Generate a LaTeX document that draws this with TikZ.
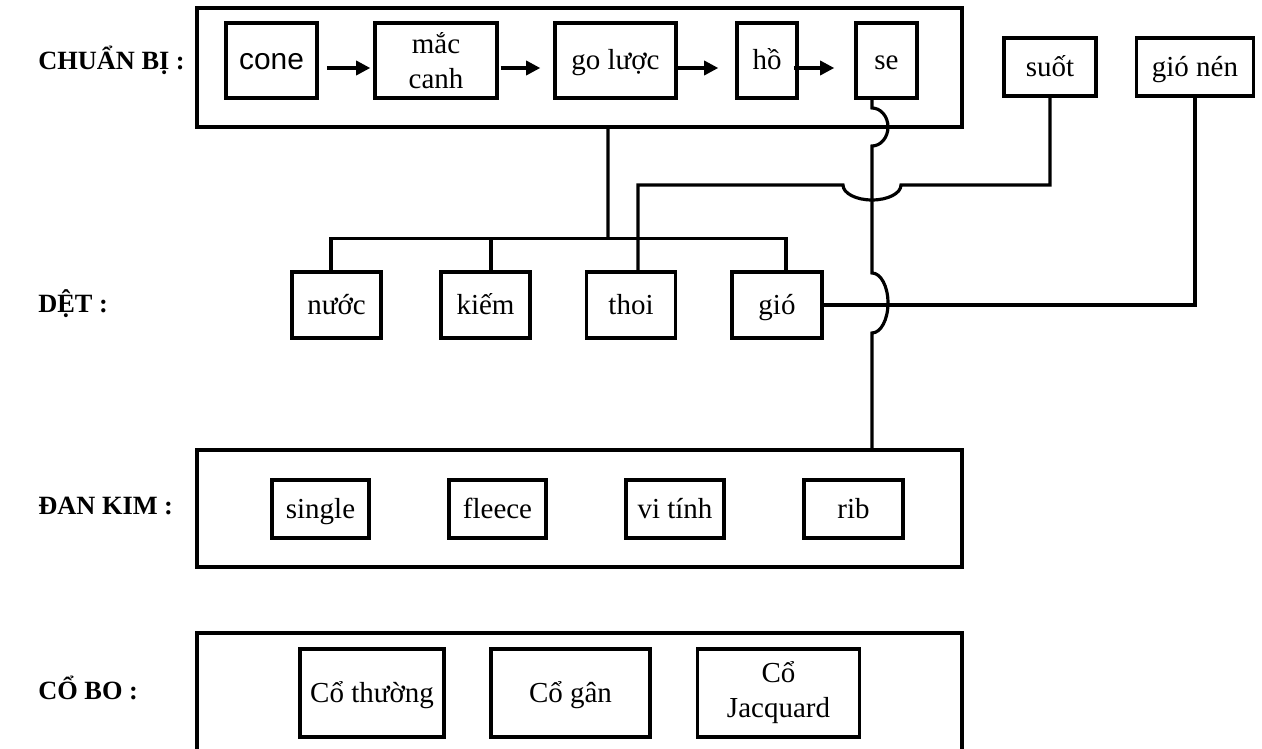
\documentclass[tikz,border=0pt]{standalone}
\usepackage{fontspec}
\setmainfont{Liberation Serif}
\newfontfamily\arialf{Liberation Sans}
\usetikzlibrary{arrows.meta,calc}
\tikzset{
  bx/.style={draw, line width=2pt, inner sep=0pt, align=center, font=\fontsize{16.5}{20}\selectfont},
  one/.style={text height=14pt, text depth=3.2pt},
  cont/.style={draw, line width=2pt, inner sep=0pt},
  lbl/.style={anchor=base west, inner sep=0pt, font=\fontsize{15}{18}\selectfont\bfseries},
  conn/.style={line width=1.8pt},
  arr/.style={line width=1.8pt, -{Triangle[length=8pt,width=8pt]}}
}
\begin{document}
\begin{tikzpicture}[x=0.02cm,y=-0.02cm]
\path[use as bounding box, clip] (0,0) rectangle (1262,749);
\fill[white] (0,0) rectangle (1262,749);
% labels
\node[lbl] (l1) at (38,70) {CHUẨN BỊ :};
\node[lbl] (l2) at (38,313) {DỆT :};
\node[lbl] (l3) at (38,515) {ĐAN KIM :};
\node[lbl] (l4) at (38,700) {CỔ BO :};
% containers
\node[cont, minimum width=15.3cm, minimum height=2.38cm] (cb) at (579.5,67.5) {};
\node[cont, minimum width=15.3cm, minimum height=2.34cm] (dk) at (579.5,508.5) {};
\node[cont, minimum width=15.3cm, minimum height=2.4cm] (co) at (579.5,693) {};
% top row
\node[bx, one, minimum width=1.82cm, minimum height=1.5cm, font=\arialf\fontsize{17}{20}\selectfont] (cone) at (271.5,60.5) {cone};
\node[bx, minimum width=2.44cm, minimum height=1.5cm] (mac) at (436,60.5) {mắc\\canh};
\node[bx, one, minimum width=2.42cm, minimum height=1.5cm] (go) at (615.5,60.5) {go lược};
\node[bx, one, minimum width=1.2cm, minimum height=1.5cm] (ho) at (767,60.5) {hồ};
\node[bx, one, minimum width=1.22cm, minimum height=1.5cm] (se) at (886.5,60.5) {se};
\node[bx, one, minimum width=1.84cm, minimum height=1.16cm] (suot) at (1050,67) {suốt};
\node[bx, one, minimum width=2.34cm, minimum height=1.16cm] (gionen) at (1195,67) {gió nén};
% det row
\node[bx, one, minimum width=1.78cm, minimum height=1.32cm] (nuoc) at (336.5,305) {nước};
\node[bx, one, minimum width=1.78cm, minimum height=1.32cm] (kiem) at (485.5,305) {kiếm};
\node[bx, one, minimum width=1.78cm, minimum height=1.32cm] (thoi) at (631,305) {thoi};
\node[bx, one, minimum width=1.8cm, minimum height=1.32cm] (gio) at (777,305) {gió};
% dan kim row
\node[bx, one, minimum width=1.94cm, minimum height=1.16cm] (single) at (320.5,509) {single};
\node[bx, one, minimum width=1.94cm, minimum height=1.16cm] (fleece) at (497.5,509) {fleece};
\node[bx, one, minimum width=1.96cm, minimum height=1.16cm] (vitinh) at (675,509) {vi tính};
\node[bx, one, minimum width=1.98cm, minimum height=1.16cm] (rib) at (853.5,509) {rib};
% co bo row
\node[bx, one, minimum width=2.88cm, minimum height=1.76cm] (cothuong) at (372,693) {Cổ thường};
\node[bx, one, minimum width=3.18cm, minimum height=1.76cm] (cogan) at (570.5,693) {Cổ gân};
\node[bx, minimum width=3.24cm, minimum height=1.76cm] (cojac) at (778.5,693) {Cổ\\Jacquard};
% arrows
\draw[arr] ($(cone.east)+(8,7.5)$) -- ($(mac.west)+(-3,7.5)$);
\draw[arr] ($(mac.east)+(2,7.5)$) -- ($(go.west)+(-13,7.5)$);
\draw[arr] ($(go.east)+(-3,7.5)$) -- ($(ho.west)+(-17,7.5)$);
\draw[arr] ($(ho.east)+(-5,7.5)$) -- ($(se.west)+(-20,7.5)$);
% connectors
\coordinate (bar) at (608,240);
\draw[conn] ($(cb.south)+(28.5,0)$) -- (bar);
\draw[conn] ($(nuoc.north)+(-5.5,0)$) -- ++(0,-32) -| ($(gio.north)+(9,0)$);
\draw[conn] ($(kiem.north)+(5.5,0)$) -- ++(0,-32);
\coordinate (hopA) at (843,185);
\coordinate (hopB) at (901,185);
\draw[conn] ($(thoi.north)+(7,0)$) |- (hopA)
  .. controls (843,193.3) and (856,200) .. (872,200)
  .. controls (888,200) and (901,193.3) .. (hopB)
  -| (suot.south);
\draw[conn] (gio.east) -| (gionen.south);
\coordinate (sx) at (872,0);
\draw[conn] (se.south -| sx) -- (872,108)
  .. controls (880.8,108) and (888,116.5) .. (888,127)
  .. controls (888,137.5) and (880.8,146) .. (872,146)
  -- (872,273)
  .. controls (880.8,273) and (888,286.4) .. (888,303)
  .. controls (888,319.6) and (880.8,333) .. (872,333)
  -- (dk.north -| sx);
\end{tikzpicture}
\end{document}
